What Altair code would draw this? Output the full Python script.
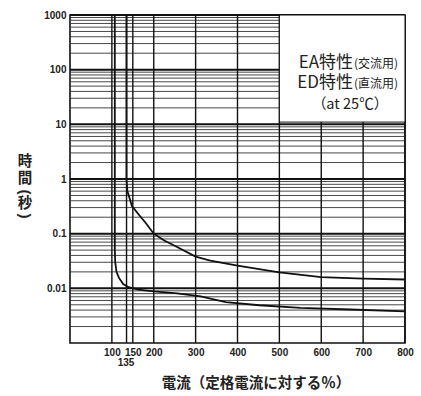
import altair as alt
import pandas as pd

# ---- data ----
x_tick_values = [100, 150, 200, 300, 400, 500, 600, 700, 800]
x_grid_values = [100, 135, 150, 200, 300, 400, 500, 600, 700, 800]
y_tick_values = [0.01, 0.1, 1, 10, 100, 1000]
decades = [0.001, 0.01, 0.1, 1, 10, 100]
minor_mult = [2, 3, 4, 5, 6, 7, 8, 9]

# EA characteristic (AC) - lower curve
ea_x = [107, 107, 108, 111, 117, 127, 140, 163, 200, 256, 312, 372, 452, 550, 670, 800]
ea_y = [1000, 0.05, 0.03, 0.02, 0.0155, 0.012, 0.0105, 0.0095, 0.0088, 0.0081, 0.0071,
        0.0056, 0.0049, 0.0044, 0.0041, 0.0038]

# ED characteristic (DC) - upper curve
ed_x = [135, 135, 137, 148, 165, 180, 200, 225, 250, 300, 335, 400, 500, 600, 700, 800]
ed_y = [1000, 1.0, 0.6, 0.32, 0.22, 0.16, 0.1, 0.075, 0.06, 0.038, 0.032, 0.026,
        0.0196, 0.016, 0.015, 0.0145]

minor_lines = [d * m for d in decades for m in minor_mult]
major_lines = y_tick_values

curves = pd.concat([
    pd.DataFrame({"x": ea_x, "y": ea_y, "s": "EA", "o": range(len(ea_x))}),
    pd.DataFrame({"x": ed_x, "y": ed_y, "s": "ED", "o": range(len(ed_x))}),
])

xscale = alt.Scale(domain=[0, 800], nice=False, zero=False)
yscale = alt.Scale(type="log", domain=[0.001, 1000], nice=False)

FONT_NUM = "Liberation Sans"
FONT_CJK = "Noto Sans CJK JP"

xaxis = alt.Axis(
    values=x_tick_values, title=None, grid=False, ticks=False, domain=False,
    labelFont=FONT_NUM, labelFontSize=10, labelFontWeight="bold",
    labelColor="#222222", labelPadding=4, labelOverlap=False, labelFlush=False)
yaxis = alt.Axis(
    values=y_tick_values, title=None, grid=False, ticks=False, domain=False,
    format="~g", labelFont=FONT_NUM, labelFontSize=10, labelFontWeight="bold",
    labelColor="#222222", labelPadding=4)

minor = alt.Chart(pd.DataFrame({"v": minor_lines})).mark_rule(
    color="#333333", strokeWidth=0.9
).encode(y=alt.Y("v:Q", scale=yscale, axis=yaxis))

major = alt.Chart(pd.DataFrame({"v": major_lines})).mark_rule(
    color="#111111", strokeWidth=2
).encode(y=alt.Y("v:Q", scale=yscale, axis=yaxis))

vgrid = alt.Chart(pd.DataFrame({"v": x_grid_values})).mark_rule(
    color="#111111", strokeWidth=1.4
).encode(x=alt.X("v:Q", scale=xscale, axis=xaxis))

box = alt.Chart(pd.DataFrame({"a": [0]})).mark_rect(
    fill="white", stroke="#111111", strokeWidth=1
).encode(
    x=alt.datum(500, scale=xscale, axis=xaxis), x2=alt.datum(800),
    y=alt.datum(11, scale=yscale, axis=yaxis), y2=alt.datum(1000),
)

lines = alt.Chart(curves).mark_line(color="#111111", strokeWidth=1.8).encode(
    x=alt.X("x:Q", scale=xscale, axis=xaxis),
    y=alt.Y("y:Q", scale=yscale, axis=yaxis),
    detail="s:N",
    order="o:Q",
)

def txt(text, x, y, size, align="center", font=FONT_CJK, weight="normal", angle=None):
    kw = dict(text=text, align=align, baseline="middle", font=font,
              fontSize=size, fontWeight=weight, color="#222222")
    if angle is not None:
        kw["angle"] = angle
    return alt.Chart(pd.DataFrame({"a": [0]})).mark_text(**kw).encode(
        x=alt.value(x), y=alt.value(y))

texts = [
    txt("EA特性", 283, 48, 17, align="right"),
    txt("(交流用)", 284, 49, 12, align="left"),
    txt("ED特性", 283, 68, 17, align="right"),
    txt("(直流用)", 284, 69, 12, align="left"),
    txt("（at 25℃）", 280, 90, 14.5),
    txt("135", 56, 348, 10, font=FONT_NUM, weight="bold"),
    txt("時", -45, 147, 14.5, weight="bold"),
    txt("間", -45, 164, 14.5, weight="bold"),
    txt("(", -45, 177, 15, font=FONT_NUM, weight="bold", angle=90),
    txt("秒", -45, 189, 14.5, weight="bold"),
    txt(")", -45, 201, 15, font=FONT_NUM, weight="bold", angle=90),
    txt("電流（定格電流に対する％）", 186, 369, 14.5, weight="bold"),
]

chart = alt.layer(minor, major, vgrid, box, lines, *texts).properties(
    width=335, height=328,
    autosize=alt.AutoSizeParams(type="none"),
    padding={"left": 70, "top": 15, "right": 16, "bottom": 53},
    background="white",
).configure_view(stroke="#111111", strokeWidth=1.6)

chart.save("out.html", embed_options={"renderer": "svg", "actions": False})
